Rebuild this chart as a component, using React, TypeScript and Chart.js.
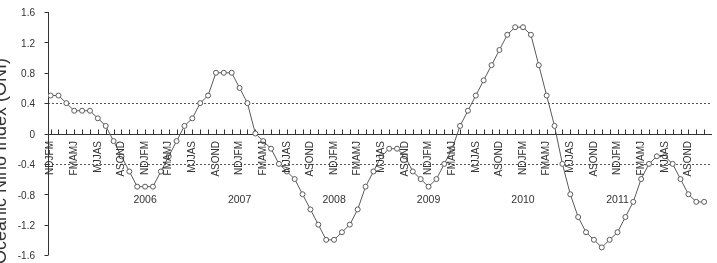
import React, { useEffect, useRef } from "react";
import { Chart, registerables } from "chart.js";

Chart.register(...registerables);

// Monthly (running-season) ONI values, index 0 .. 83
const oni = [
  0.5, 0.5, 0.4, 0.3, 0.3, 0.3, 0.2, 0.1, -0.1, -0.3,
  -0.5, -0.7, -0.7, -0.7, -0.5, -0.3, -0.1, 0.1, 0.2, 0.4,
  0.5, 0.8, 0.8, 0.8, 0.6, 0.4, 0.0, -0.1, -0.2, -0.4,
  -0.5, -0.6, -0.8, -1.0, -1.2, -1.4, -1.4, -1.3, -1.2, -1.0,
  -0.7, -0.5, -0.3, -0.2, -0.2, -0.3, -0.5, -0.6, -0.7, -0.6,
  -0.4, -0.2, 0.1, 0.3, 0.5, 0.7, 0.9, 1.1, 1.3, 1.4,
  1.4, 1.3, 0.9, 0.5, 0.1, -0.4, -0.8, -1.1, -1.3, -1.4,
  -1.5, -1.4, -1.3, -1.1, -0.9, -0.6, -0.4, -0.3, -0.3, -0.4,
  -0.6, -0.8, -0.9, -0.9,
];

const seasonLabels = ["NDJFM", "FMAMJ", "MJJAS", "ASOND"];
const seasonEvery = 3;
const yearLabels = ["2006", "2007", "2008", "2009", "2010", "2011"];
const yearIndex = [12, 24, 36, 48, 60, 72];
const refLines = [0.4, -0.4];
const yTicks = [1.6, 1.2, 0.8, 0.4, 0, -0.4, -0.8, -1.2, -1.6];
const yTickLabels = ["1.6", "1.2", "0.8", "0.4", "0", "-0.4", "-0.8", "-1.2", "-1.6"];
const yMin = -1.6;
const yMax = 1.6;
const yTitle = "Oceanic Niño Index (ONI)";

const FONT = '"Liberation Sans", Arial, sans-serif';

const overlay = {
  id: "overlay",
  beforeDatasetsDraw(chart: any) {
    const { ctx, chartArea, scales } = chart;
    const { left, right, top, bottom } = chartArea;
    const x = scales.x;
    const y = scales.y;
    ctx.save();
    ctx.lineWidth = 1;
    ctx.strokeStyle = "#555";
    ctx.setLineDash([2, 2]);
    for (const r of refLines) {
      const py = Math.round(y.getPixelForValue(r)) + 0.5;
      ctx.beginPath();
      ctx.moveTo(left, py);
      ctx.lineTo(right, py);
      ctx.stroke();
    }
    ctx.setLineDash([]);
    ctx.strokeStyle = "#333";
    // y axis
    const ax = Math.round(left) + 0.5;
    ctx.beginPath();
    ctx.moveTo(ax, top);
    ctx.lineTo(ax, bottom);
    yTicks.forEach((t) => {
      const py = Math.round(y.getPixelForValue(t)) + 0.5;
      ctx.moveTo(ax - 4, py);
      ctx.lineTo(ax, py);
    });
    ctx.stroke();
    ctx.fillStyle = "#333";
    ctx.font = `10px ${FONT}`;
    ctx.textAlign = "right";
    ctx.textBaseline = "middle";
    yTicks.forEach((t, i) => {
      ctx.fillText(yTickLabels[i], left - 13, y.getPixelForValue(t) + 1.5);
    });
    // zero line with ticks
    const y0 = Math.round(y.getPixelForValue(0)) + 0.5;
    ctx.beginPath();
    ctx.moveTo(left, y0);
    ctx.lineTo(right, y0);
    for (let i = 0; i < oni.length; i++) {
      const px = Math.round(x.getPixelForValue(i)) + 0.5;
      ctx.moveTo(px, y0);
      ctx.lineTo(px, y0 - 5);
    }
    ctx.stroke();
    ctx.restore();
  },
  afterDatasetsDraw(chart: any) {
    const { ctx, scales } = chart;
    const x = scales.x;
    const y = scales.y;
    const y0 = y.getPixelForValue(0);
    ctx.save();
    ctx.fillStyle = "#333";
    ctx.font = `10px ${FONT}`;
    for (let i = 0, k = 0; i < oni.length; i += seasonEvery, k++) {
      const px = x.getPixelForValue(i);
      ctx.save();
      ctx.translate(px, y0 + 7.5);
      ctx.rotate(-Math.PI / 2);
      ctx.textAlign = "right";
      ctx.textBaseline = "middle";
      ctx.fillText(seasonLabels[k % seasonLabels.length], 0, 0);
      ctx.restore();
    }
    ctx.textAlign = "center";
    ctx.textBaseline = "middle";
    ctx.font = `10.5px ${FONT}`;
    yearLabels.forEach((t, j) => {
      ctx.fillText(t, x.getPixelForValue(yearIndex[j]), y0 + 66.5);
    });
    // y-axis title
    ctx.save();
    ctx.font = `18px ${FONT}`;
    ctx.translate(6, 161);
    ctx.rotate(-Math.PI / 2);
    ctx.textAlign = "center";
    ctx.textBaseline = "alphabetic";
    ctx.fillText(yTitle, 0, 0);
    ctx.restore();
    ctx.restore();
  },
};

export default function App() {
  const ref = useRef<HTMLCanvasElement | null>(null);
  useEffect(() => {
    document.body.style.margin = "0";
    const canvas = ref.current!;
    const chart = new Chart(canvas, {
      type: "line",
      data: {
        datasets: [
          {
            data: oni.map((v, i) => ({ x: i, y: v })),
            borderColor: "#5a5a5a",
            borderWidth: 1,
            pointRadius: 2.5,
            pointBackgroundColor: "#fff",
            pointBorderColor: "#5a5a5a",
            pointBorderWidth: 1,
            tension: 0,
          },
        ],
      },
      options: {
        animation: false,
        responsive: false,
        devicePixelRatio: 1,
        layout: { padding: { left: 48, right: 0, top: 12, bottom: 8 } },
        plugins: { legend: { display: false }, tooltip: { enabled: false } },
        scales: {
          x: { type: "linear", display: false, min: -0.33, max: 84.0 },
          y: { type: "linear", display: false, min: yMin, max: yMax },
        },
      },
      plugins: [overlay],
    });
    return () => chart.destroy();
  }, []);
  return (
    <div style={{ position: "absolute", left: 0, top: 0, width: 717, height: 263 }}>
      <canvas ref={ref} width={717} height={263} />
    </div>
  );
}
